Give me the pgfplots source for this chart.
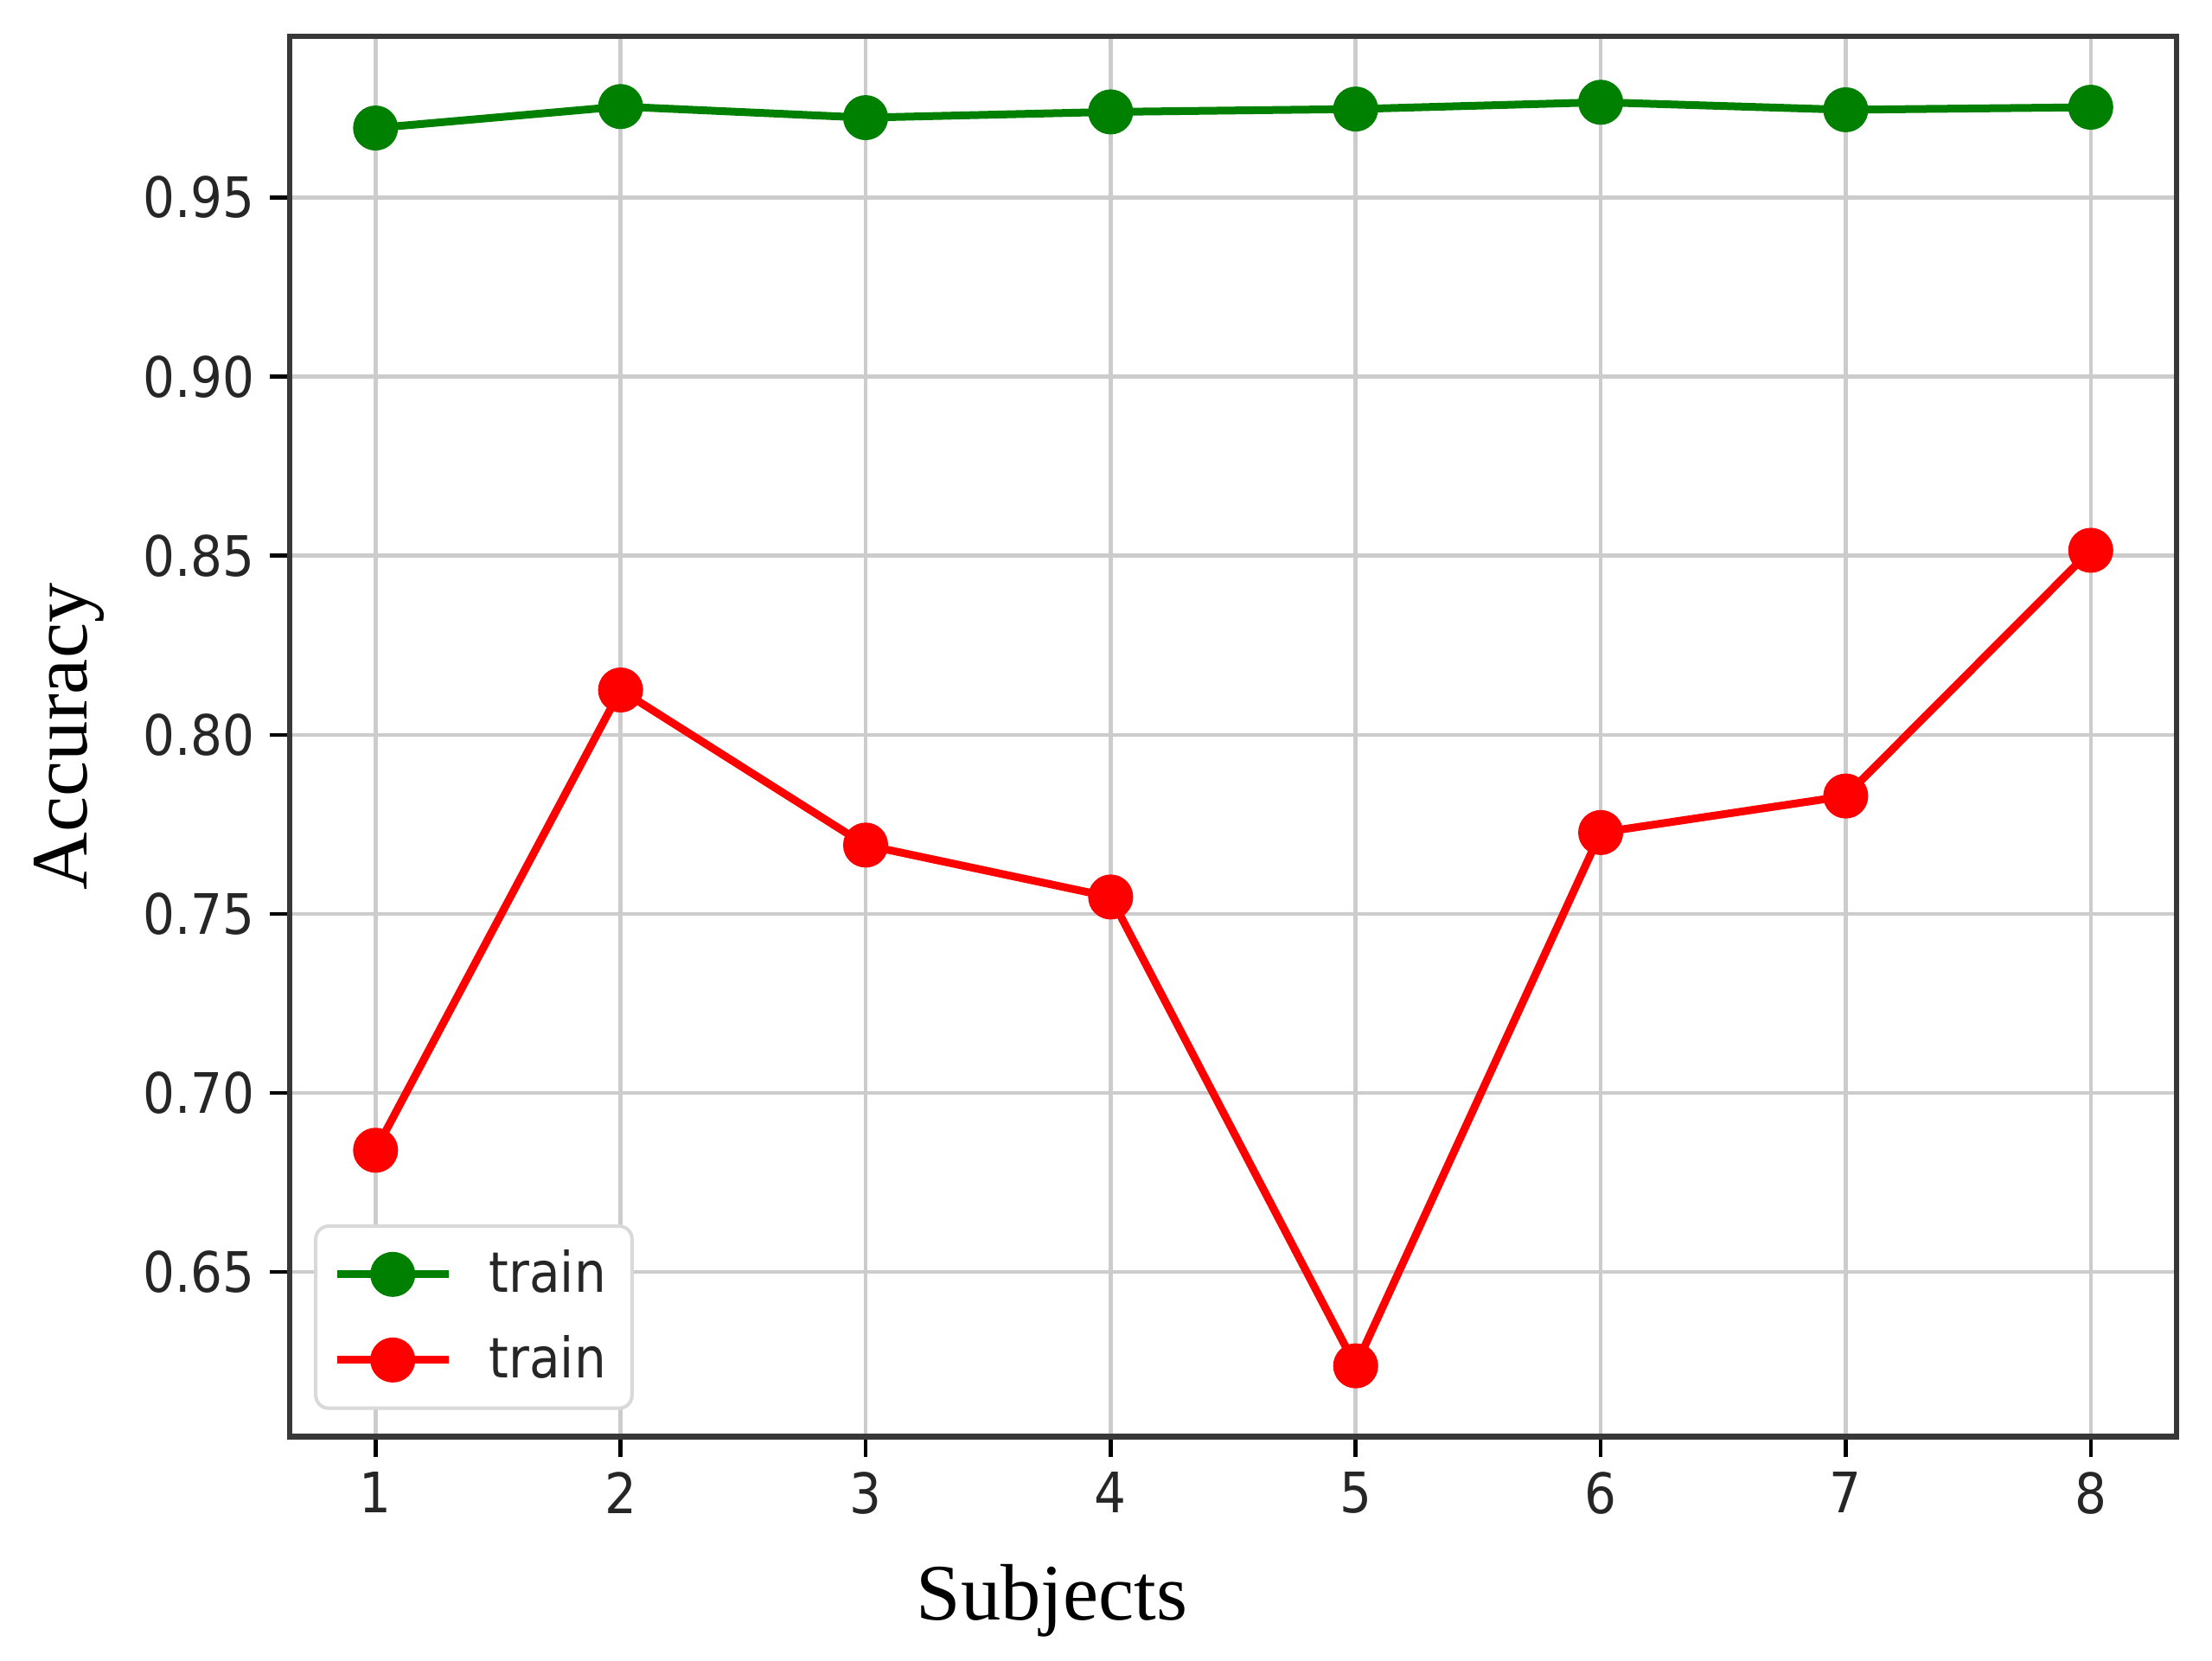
\documentclass[border=0pt]{standalone}
\usepackage{fontspec}
\usepackage{pgfplots}
\pgfplotsset{compat=1.18}
\newfontfamily\tickfont[FakeStretch=0.9]{DejaVu Sans}
\newfontfamily\labelfont{Liberation Serif}
\definecolor{mplgreen}{RGB}{0,128,0}
\definecolor{mplred}{RGB}{255,0,0}
\begin{document}
\begin{tikzpicture}
\begin{axis}[
    scale only axis,
    width=436.2pt, height=323.8pt,
    xmin=0.65, xmax=8.35,
    ymin=0.604, ymax=0.995,
    xtick={1,2,3,4,5,6,7,8},
    ytick={0.65,0.70,0.75,0.80,0.85,0.90,0.95},
    /pgf/number format/assume math mode=true,
    yticklabel style={/pgf/number format/.cd, fixed, fixed zerofill, precision=2},
    tick label style={font=\fontsize{12.9}{15}\tickfont, text=black!85},
    xtick pos=lower, ytick pos=left,
    tick align=outside,
    major tick length=4.6pt,
    tick style={black, line width=0.9pt},
    axis line style={black!78, line width=1.3pt},
    grid=major,
    major grid style={black!20, line width=0.9pt},
    xlabel={Subjects},
    ylabel={Accuracy},
    label style={font=\fontsize{18.5}{22}\labelfont},
    xlabel style={at={(axis description cs:0.404,0)}, anchor=base, yshift=-42.4pt},
    ylabel style={at={(axis description cs:0,0.5)}, anchor=base, yshift=47pt},
    legend cell align=left,
    legend style={font=\fontsize{12.9}{15}\tickfont, text=black!85,
        at={(0,0)}, anchor=south west, xshift=5.6pt, yshift=6.2pt,
        draw=black!15, line width=0.8pt, rounded corners=3pt, fill=white,
        inner xsep=4pt, inner ysep=3.5pt, row sep=4.5pt,
        /tikz/every odd column/.append style={column sep=6.5pt}},
    legend image code/.code={
        \draw[mark repeat=2, mark phase=2] plot coordinates {(0pt,0pt) (12.9pt,0pt) (25.8pt,0pt)};
    },
]
\addplot[mplgreen, line width=1.8pt, mark=*, mark size=4.3pt, mark options={draw=none, fill=mplgreen}]
coordinates {
    (1,0.9694) (2,0.9754) (3,0.9723) (4,0.9739)
    (5,0.9747) (6,0.9766) (7,0.9745) (8,0.9752)
};
\addlegendentry{train}
\addplot[mplred, line width=1.8pt, mark=*, mark size=4.3pt, mark options={draw=none, fill=mplred}]
coordinates {
    (1,0.684) (2,0.8125) (3,0.7692) (4,0.7547)
    (5,0.6238) (6,0.7727) (7,0.7829) (8,0.8515)
};
\addlegendentry{train}
\end{axis}
\pgfresetboundingbox
\useasboundingbox (-67pt,-51.8pt) rectangle (444.4pt,332.2pt);
\end{tikzpicture}
\end{document}
